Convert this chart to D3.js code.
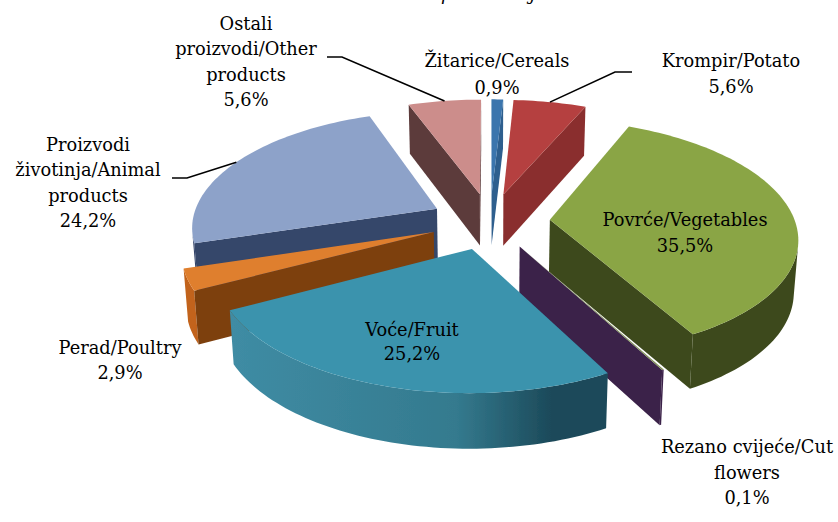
<!DOCTYPE html>
<html><head><meta charset="utf-8">
<script src="https://cdn.jsdelivr.net/npm/d3@7/dist/d3.min.js"></script>
<style>html,body{margin:0;padding:0;background:#fff;overflow:hidden}</style>
</head><body><svg id="c" width="838" height="522"></svg>
<script>
const categories=["Žitarice/Cereals","Krompir/Potato","Povrće/Vegetables","Rezano cvijeće/Cut flowers","Voće/Fruit","Perad/Poultry","Proizvodi životinja/Animal products","Ostali proizvodi/Other products"];
const values=[0.9,5.6,35.5,0.1,25.2,2.9,24.2,5.6];
const valueLabels=["0,9%","5,6%","35,5%","0,1%","25,2%","2,9%","24,2%","5,6%"];
const labelLines=[["Žitarice/Cereals"],["Krompir/Potato"],["Povrće/Vegetables"],["Rezano cvijeće/Cut","flowers"],["Voće/Fruit"],["Perad/Poultry"],["Proizvodi","životinja/Animal","products"],["Ostali","proizvodi/Other","products"]];
const labelX=[497,731,685,747,412,120,88,246];
const labelY=[62,62,221,448,331,349,146,25];
const labelGap=[27,26,26,25.5,24,25,25.3,25.3];
const topColors=["#3b75ad","#b5413f","#8aa545","#7f8f58","#3a93ad","#df7f2e","#8da2c9","#cc8d8b"];
const wallColors=["#2f5f8e","#8a2f2e","#3e4a1d","#3a2048","#1f4f5e","#7d3f0e","#34466b","#5c3b3b"];
const rimLeft=["#2f5f8e","#8a2f2e","#3e4a1d","#3a2048","#3f8ca4","#c2631a","#34466b","#5c3b3b"];
const rimMid=["#2f5f8e","#8a2f2e","#3e4a1d","#3a2048","#347a8e","#c2631a","#34466b","#5c3b3b"];
const rimRight=["#2f5f8e","#8a2f2e","#3e4a1d","#3a2048","#1c4a5a","#c2631a","#34466b","#5c3b3b"];
const drawOrder=[0,7,1,6,2,5,3,4];
const leaderSlices=[1,7,6];
const leaderElbows=[[[632,72],[615,72]],[[327,57],[342,57]],[[172,178],[187,178]]];

const cx=490,cy=221,R=245,Rt=115,P=0.142,EXPLODE=0.245,D=52,ZS=0.015;
const sx=d3.scaleLinear().domain([-1,1]).range([cx-R,cx+R]);
const sy=d3.scaleLinear().domain([-1,1]).range([cy-Rt,cy+Rt]);
function proj(x,y,low){const w=(1-P*y)*(low?1+ZS:1);
  return [sx(x/w),sy(y/w)+(low?D/(1-0.6*P*y):0)];}
const svg=d3.select("#c");
const defs=svg.append("defs");
defs.append("filter").attr("id","soft").append("feGaussianBlur").attr("stdDeviation",0.5);
const line=d3.line();
const arcs=d3.pie().sort(null).value(d=>d).startAngle(0).endAngle(2*Math.PI)(values);
const dir=a=>[Math.sin(a),-Math.cos(a)];
const pie=svg.append("g").attr("filter","url(#soft)");
drawOrder.forEach(i=>{
  const s=arcs[i],mid=(s.startAngle+s.endAngle)/2,e=dir(mid).map(v=>v*EXPLODE);
  const N=Math.max(4,Math.ceil((s.endAngle-s.startAngle)*40));
  const ang=d3.range(N+1).map(k=>s.startAngle+(s.endAngle-s.startAngle)*k/N);
  const w=a=>{const d=dir(a);return [d[0]+e[0],d[1]+e[1]];};
  const T=a=>{const p=w(a);return proj(p[0],p[1],false);};
  const B=a=>{const p=w(a);return proj(p[0],p[1],true);};
  const apexT=proj(e[0],e[1],false),apexB=proj(e[0],e[1],true);
  const rimT=ang.map(T),rimB=ang.map(B);
  const grad=defs.append("linearGradient").attr("id","rim"+i).attr("gradientUnits","userSpaceOnUse")
    .attr("x1",d3.min(rimT,p=>p[0])).attr("x2",d3.max(rimT,p=>p[0])).attr("y1",0).attr("y2",0);
  grad.append("stop").attr("offset",0).attr("stop-color",rimLeft[i]);
  grad.append("stop").attr("offset",0.6).attr("stop-color",rimMid[i]);
  grad.append("stop").attr("offset",0.85).attr("stop-color",rimRight[i]);
  const keep=[];
  for(let k=0;k<N;k++){
    if(d3.polygonArea([rimT[k],rimT[k+1],rimB[k+1],rimB[k]])>0) keep.push(k);
  }
  if(keep.length){
    const a=keep[0],b=keep[keep.length-1]+1;
    const poly=rimT.slice(a,b+1).concat(rimB.slice(a,b+1).reverse());
    pie.append("path").attr("d",line(poly)+"Z").attr("fill",`url(#rim${i})`);
  }
  const walls=[[apexT,rimT[0],rimB[0],apexB],[rimT[N],apexT,apexB,rimB[N]]];
  walls.forEach(q=>{ if(d3.polygonArea(q)>0)
    pie.append("path").attr("d",line(q)+"Z").attr("fill",wallColors[i]);});
  pie.append("path").attr("d",line([apexT].concat(rimT))+"Z").attr("fill",topColors[i]);
});
leaderSlices.forEach((i,n)=>{
  const s=arcs[i],mid=(s.startAngle+s.endAngle)/2,d=dir(mid);
  const end=proj(d[0]*(1+EXPLODE),d[1]*(1+EXPLODE),false);
  svg.append("path").attr("d",line(leaderElbows[n].concat([end]))).attr("fill","none").attr("stroke","#000").attr("stroke-width",1.6);
});
const font="'DejaVu Serif'",fs=17.8;
categories.forEach((c,i)=>{
  const g=svg.append("text").attr("font-family",font).attr("font-size",fs).attr("fill","#000").attr("text-anchor","middle");
  const lines=labelLines[i].concat([valueLabels[i]]);
  lines.forEach((t,k)=>g.append("tspan").attr("x",labelX[i]).attr("y",labelY[i]+5+k*labelGap[i]).text(t));
});
svg.append("text").attr("font-family",font).attr("font-style","italic").attr("font-size",18).attr("x",441).attr("y",0).text("p");
svg.append("text").attr("font-family",font).attr("font-style","italic").attr("font-size",18).attr("x",530).attr("y",0).text("j");
</script></body></html>
